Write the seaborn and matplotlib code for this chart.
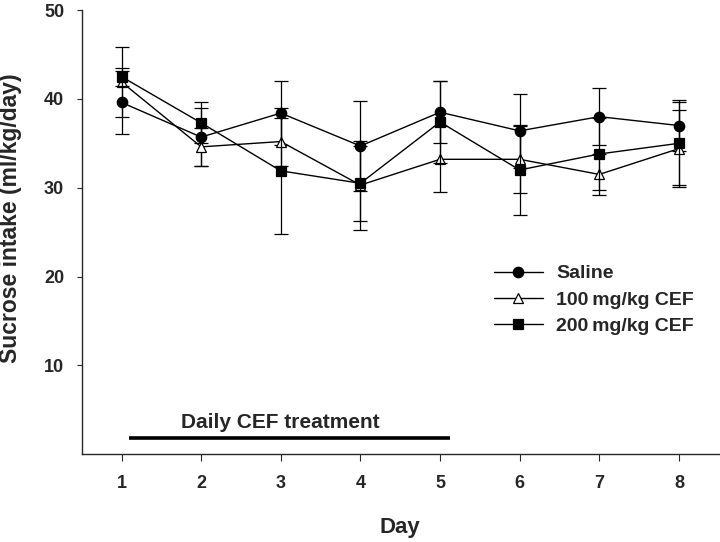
import numpy as np
import pandas as pd
import seaborn as sns
import matplotlib
matplotlib.use('Agg')
import matplotlib.pyplot as plt

# ---------------- veri ----------------
days = [1, 2, 3, 4, 5, 6, 7, 8]

saline_mean = [39.6, 35.7, 38.4, 34.7, 38.5, 36.4, 38.0, 37.0]
saline_err = [3.5, 3.3, 3.6, 5.1, 3.5, 4.2, 3.2, 2.9]

cef100_mean = [41.9, 34.6, 35.2, 30.3, 33.2, 33.2, 31.5, 34.4]
cef100_err = [3.9, 2.1, 2.7, 5.0, 3.7, 3.8, 2.3, 4.3]

cef200_mean = [42.5, 37.3, 31.9, 30.5, 37.4, 32.0, 33.8, 35.0]
cef200_err = [1.0, 2.3, 7.1, 4.2, 4.6, 5.1, 4.0, 4.7]

group_names = ['Saline', '100\u2009mg/kg CEF', '200\u2009mg/kg CEF']
treatment_days = [1.1, 5.12]
treatment_label = 'Daily CEF treatment'

sns.set_style('ticks')
plt.rcParams['font.family'] = ['Liberation Sans', 'DejaVu Sans']
plt.rcParams['font.weight'] = 'bold'

fig = plt.figure(figsize=(7.2, 5.42), dpi=100)
ax = fig.add_axes([0.1135, 0.1618, 0.8847, 0.8197])

gruplar = [
    (group_names[0], saline_mean, saline_err, 'o', 'black', 7.5),
    (group_names[1], cef100_mean, cef100_err, '^', 'white', 7),
    (group_names[2], cef200_mean, cef200_err, 's', 'black', 6.8),
]

for ad, ort, hata, mk, fc, ms in gruplar:
    df = pd.DataFrame({'Day': days, 'Intake': ort})
    ax.errorbar(days, ort, yerr=hata, fmt='none', ecolor='black',
                elinewidth=0.9, capsize=4.8, capthick=0.9)
    sns.lineplot(data=df, x='Day', y='Intake', ax=ax, color='black',
                 marker=mk, markersize=ms, markerfacecolor=fc,
                 markeredgecolor='black', markeredgewidth=0.9,
                 linewidth=1.0, label=ad, legend=False)

# tedavi cizgisi
ax.plot(treatment_days, [1.8, 1.8], color='black', lw=2.6, solid_capstyle='butt')
ax.text(3.0, 3.6, treatment_label, ha='center', va='center', fontsize=15, fontweight='bold')

ax.set_xlim(0.5, 8.5)
ax.set_ylim(0, 50)
ax.set_xticks(days)
ax.set_yticks([10, 20, 30, 40, 50])
ax.tick_params(axis='x', length=5, width=0.8, pad=10, labelsize=13)
ax.tick_params(axis='y', length=3.6, width=0.8, pad=9, labelsize=13)
for lab in ax.get_xticklabels() + ax.get_yticklabels():
    lab.set_fontweight('bold')

sns.despine(ax=ax)
for s in ['left', 'bottom']:
    ax.spines[s].set_linewidth(1.0)

ax.set_xlabel('Day', fontsize=16, fontweight='bold')
ax.set_ylabel('Sucrose intake (ml/kg/day)', fontsize=16.5, fontweight='bold')
ax.xaxis.set_label_coords(0.4997, -0.141)
ax.yaxis.set_label_coords(-0.094, 0.531)

handles, labels = ax.get_legend_handles_labels()
ax.legend(handles, labels, loc='center left', bbox_to_anchor=(494 / 720, 1 - 300 / 542),
          bbox_transform=fig.transFigure, frameon=False, handlelength=2.5,
          handletextpad=0.7, labelspacing=0.45, borderpad=0, borderaxespad=0,
          prop={'size': 14, 'weight': 'bold'})

fig.savefig('out.png', dpi=100)
